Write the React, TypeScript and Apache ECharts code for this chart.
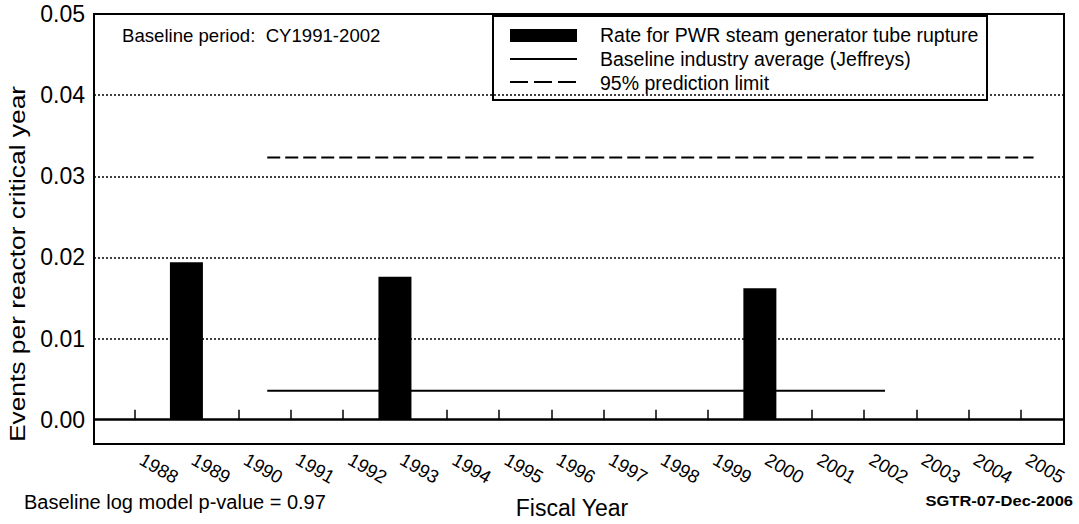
import React, { useEffect, useRef } from "react";
import * as echarts from "echarts";

// ---- data ----
const years = [1988, 1989, 1990, 1991, 1992, 1993, 1994, 1995, 1996, 1997, 1998, 1999, 2000, 2001, 2002, 2003, 2004, 2005];
const rateYears = [1989, 1993, 2000];
const rateValues = [0.0194, 0.0176, 0.0162];
const baselineSpan = [1990.55, 2002.4];
const baselineValue = 0.00357;
const limitSpan = [1990.55, 2005.25];
const limitValue = 0.0323;
const yTickValues = [0, 0.01, 0.02, 0.03, 0.04, 0.05];
const yGridValues = [0.01, 0.02, 0.03, 0.04];

const seriesNames = [
  "Rate for PWR steam generator tube rupture",
  "Baseline industry average (Jeffreys)",
  "95% prediction limit",
];
const yTitle = "Events per reactor critical year";
const xTitle = "Fiscal Year";
const periodNote = "Baseline period:  CY1991-2002";
const pValueNote = "Baseline log model p-value = 0.97";
const stamp = "SGTR-07-Dec-2006";

const FONT = '"Liberation Sans", Arial, Helvetica, sans-serif';

export default function App() {
  const ref = useRef<HTMLDivElement>(null);
  useEffect(() => {
    if (!ref.current) return;
    const chart = echarts.init(ref.current, undefined, { renderer: "svg" });
    const option: any = {
      animation: false,
      backgroundColor: "#fff",
      textStyle: { fontFamily: FONT, color: "#000" },
      grid: {
        left: 94,
        right: 15,
        top: 14,
        bottom: 80,
        show: true,
        borderColor: "#000",
        borderWidth: 2,
        backgroundColor: "transparent",
        outerBoundsMode: "none",
      },
      xAxis: {
        type: "value",
        min: 1987.227,
        max: 2005.834,
        axisLine: { show: false },
        splitLine: { show: false },
        axisTick: {
          show: true,
          inside: true,
          length: 10,
          customValues: years,
          lineStyle: { color: "#000", width: 1.5 },
        },
        axisLabel: {
          customValues: years,
          rotate: -30,
          fontSize: 18.5,
          fontFamily: FONT,
          color: "#000",
          margin: 10,
          padding: [0, 0, 0, 8],
          formatter: (v: number) => String(v),
        },
      },
      yAxis: {
        type: "value",
        min: -0.003,
        max: 0.05,
        axisLine: { show: false },
        axisTick: { show: false },
        splitLine: { show: false },
        axisLabel: {
          customValues: yTickValues,
          fontSize: 23,
          fontFamily: FONT,
          color: "#000",
          margin: 9,
          formatter: (v: number) => v.toFixed(2),
        },
      },
      series: [
        {
          name: seriesNames[0],
          type: "bar",
          barWidth: 33,
          itemStyle: { color: "#000" },
          data: rateYears.map((y, i) => [y, rateValues[i]]),
          z: 3,
          markLine: {
            silent: true,
            symbol: ["none", "none"],
            label: { show: false },
            z: 1,
            lineStyle: { color: "#000", type: [2, 2], width: 1.5 },
            data: [
              ...yGridValues.map((v) => ({ yAxis: v })),
              { yAxis: 0, lineStyle: { color: "#000", type: "solid", width: 2.5 } },
            ],
          },
        },
        {
          name: seriesNames[1],
          type: "line",
          symbol: "none",
          lineStyle: { color: "#000", width: 2 },
          data: baselineSpan.map((x) => [x, baselineValue]),
          z: 2,
        },
        {
          name: seriesNames[2],
          type: "line",
          symbol: "none",
          lineStyle: { color: "#000", width: 2, type: [13, 5] },
          data: limitSpan.map((x) => [x, limitValue]),
          z: 2,
        },
      ],
      graphic: [
        {
          type: "text",
          x: 122,
          y: 35,
          style: { text: periodNote, fontSize: 18.6, fontFamily: FONT, fill: "#000", textVerticalAlign: "middle" },
        },
        {
          type: "group",
          z: 100,
          children: [
            {
              type: "rect",
              shape: { x: 493, y: 16, width: 494, height: 84 },
              style: { fill: "#fff", stroke: "#000", lineWidth: 2 },
            },
            {
              type: "rect",
              shape: { x: 510, y: 29, width: 67, height: 13 },
              style: { fill: "#000" },
            },
            {
              type: "line",
              shape: { x1: 510, y1: 59, x2: 577, y2: 59 },
              style: { stroke: "#000", lineWidth: 2 },
            },
            {
              type: "line",
              shape: { x1: 510, y1: 82, x2: 577, y2: 82 },
              style: { stroke: "#000", lineWidth: 2, lineDash: [18, 6] },
            },
            ...seriesNames.map((n, i) => ({
              type: "text",
              x: 600,
              y: 35 + i * 24,
              style: { text: n, fontSize: 19.5, fontFamily: FONT, fill: "#000", textVerticalAlign: "middle" },
            })),
          ],
        },
        {
          type: "text",
          x: 17,
          y: 264,
          rotation: Math.PI / 2,
          scaleX: 1.2,
          style: { text: yTitle, fontSize: 22, fontFamily: FONT, fill: "#000", textAlign: "center", textVerticalAlign: "middle" },
        },
        {
          type: "text",
          x: 572,
          y: 508,
          style: { text: xTitle, fontSize: 23, fontFamily: FONT, fill: "#000", textAlign: "center", textVerticalAlign: "middle" },
        },
        {
          type: "text",
          x: 24,
          y: 502,
          style: { text: pValueNote, fontSize: 20, fontFamily: FONT, fill: "#000", textVerticalAlign: "middle" },
        },
        {
          type: "text",
          x: 1073,
          y: 501,
          scaleX: 1.1,
          style: { text: stamp, fontSize: 15, fontWeight: "bold", fontFamily: FONT, fill: "#000", textAlign: "right", textVerticalAlign: "middle" },
        },
      ],
    };
    chart.setOption(option);
    return () => chart.dispose();
  }, []);
  return (
    <div
      ref={ref}
      style={{ position: "fixed", left: 0, top: 0, width: 1079, height: 524, background: "#fff" }}
    />
  );
}
